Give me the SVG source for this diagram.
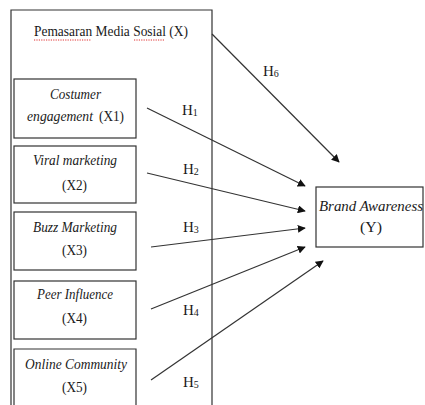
<svg xmlns="http://www.w3.org/2000/svg" width="425" height="405" viewBox="0 0 425 405">
<defs>
<style>
.box{fill:#fff;stroke:#333;stroke-width:1.2}
.t{font-family:"Liberation Serif","Times New Roman",serif;font-size:15px;fill:#1a1a1a;text-anchor:middle}
.s{text-anchor:start}
.i{font-style:italic}
.c{stroke:#333;stroke-width:1.2;fill:none;marker-end:url(#ah)}
.h{font-family:"Liberation Serif","Times New Roman",serif;font-size:15px;fill:#1a1a1a}
.sub{font-size:10px}
.sq{stroke:#e03030;stroke-width:1;stroke-dasharray:1.2 1.2;fill:none}
</style>
<marker id="ah" viewBox="0 0 10 10" refX="9" refY="5" markerWidth="8" markerHeight="8" markerUnits="userSpaceOnUse" orient="auto">
<path d="M0,0 L10,5 L0,10 Z" fill="#111"/>
</marker>
</defs>
<rect width="425" height="405" fill="#fff"/>
<g id="X">
<path class="box" d="M11,410 V10 H212 V410"/>
<text class="t" x="111" y="36" textLength="154" lengthAdjust="spacingAndGlyphs">Pemasaran Media Sosial (X)</text>
<path class="sq" d="M34,40 H91 M134,40 H164"/>
</g>
<g id="X1">
<rect class="box" x="14" y="79" width="122" height="59"/>
<text class="t i" x="75.5" y="99" textLength="51" lengthAdjust="spacingAndGlyphs">Costumer</text>
<text class="t s i" x="27" y="121" textLength="66" lengthAdjust="spacingAndGlyphs">engagement</text>
<text class="t s" x="99" y="121" textLength="25" lengthAdjust="spacingAndGlyphs">(X1)</text>
</g>
<g id="X2">
<rect class="box" x="14" y="146" width="122" height="57"/>
<text class="t i" x="75" y="165" textLength="84" lengthAdjust="spacingAndGlyphs">Viral marketing</text>
<text class="t" x="74.5" y="190" textLength="25" lengthAdjust="spacingAndGlyphs">(X2)</text>
</g>
<g id="X3">
<rect class="box" x="14" y="212" width="122" height="58"/>
<text class="t i" x="75" y="232" textLength="84" lengthAdjust="spacingAndGlyphs">Buzz Marketing</text>
<text class="t" x="74.5" y="255" textLength="25" lengthAdjust="spacingAndGlyphs">(X3)</text>
</g>
<g id="X4">
<rect class="box" x="14" y="281" width="122" height="58"/>
<text class="t i" x="75" y="299" textLength="76" lengthAdjust="spacingAndGlyphs">Peer Influence</text>
<text class="t" x="74.5" y="323" textLength="25" lengthAdjust="spacingAndGlyphs">(X4)</text>
</g>
<g id="X5">
<path class="box" d="M14,410 V349 H136 V410"/>
<text class="t i" x="76" y="369" textLength="102" lengthAdjust="spacingAndGlyphs">Online Community</text>
<text class="t" x="74.5" y="392" textLength="25" lengthAdjust="spacingAndGlyphs">(X5)</text>
</g>
<g id="Y">
<rect class="box" x="316" y="187" width="107" height="60"/>
<text class="t i" x="371" y="211" textLength="104" lengthAdjust="spacingAndGlyphs">Brand Awareness</text>
<text class="t" x="371" y="232" textLength="22" lengthAdjust="spacingAndGlyphs">(Y)</text>
</g>
<g id="connectors">
<path class="c" d="M212,34 L339,162"/>
<path class="c" d="M147,108 L305,186"/>
<path class="c" d="M147,173 L305,211"/>
<path class="c" d="M151,247 L305,228"/>
<path class="c" d="M151,309 L305,247"/>
<path class="c" d="M151,380 L323,261"/>
<text class="h" x="182" y="115">H<tspan class="sub" dy="1">1</tspan></text>
<text class="h" x="183" y="174">H<tspan class="sub" dy="1">2</tspan></text>
<text class="h" x="183" y="232">H<tspan class="sub" dy="1">3</tspan></text>
<text class="h" x="183" y="315">H<tspan class="sub" dy="1">4</tspan></text>
<text class="h" x="183" y="387">H<tspan class="sub" dy="1">5</tspan></text>
<text class="h" x="263" y="76">H<tspan class="sub" dy="1">6</tspan></text>
</g>
</svg>
